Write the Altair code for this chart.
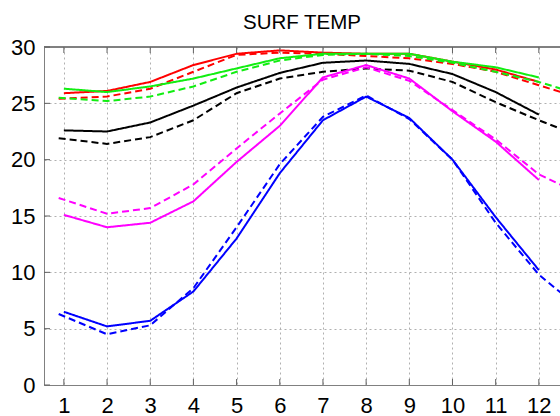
import altair as alt
import pandas as pd

months = list(range(1, 13))
dash_x = [0.88] + list(range(2, 13)) + [12.6]
y_ticks = [0, 5, 10, 15, 20, 25, 30]

series_names = ["red", "green", "black", "magenta", "blue"]
series_colors = ["#ff0000", "#11ee11", "#000000", "#ff00ff", "#0000ff"]

red_solid = [25.9, 26.1, 26.9, 28.4, 29.4, 29.7, 29.5, 29.4, 29.4, 28.7, 28.0, 26.9]
green_solid = [26.3, 26.0, 26.5, 27.2, 28.1, 29.0, 29.4, 29.4, 29.4, 28.7, 28.2, 27.3]
black_solid = [22.6, 22.5, 23.3, 24.8, 26.4, 27.7, 28.6, 28.8, 28.5, 27.6, 26.0, 24.0]
magenta_solid = [15.1, 14.0, 14.4, 16.3, 19.8, 23.0, 27.3, 28.4, 27.2, 24.3, 21.6, 18.2]
blue_solid = [6.5, 5.2, 5.7, 8.3, 13.0, 18.8, 23.5, 25.6, 23.7, 20.0, 14.9, 10.2]

red_dashed = [25.4, 25.6, 26.3, 27.8, 29.3, 29.5, 29.4, 29.2, 29.0, 28.5, 27.8, 26.6, 25.9]
green_dashed = [25.5, 25.2, 25.6, 26.5, 27.8, 28.8, 29.3, 29.4, 29.2, 28.6, 27.8, 26.9, 26.2]
black_dashed = [21.9, 21.4, 22.0, 23.5, 25.9, 27.2, 27.8, 28.1, 27.9, 26.9, 25.1, 23.5, 22.6]
magenta_dashed = [16.6, 15.2, 15.7, 17.8, 21.0, 24.1, 27.1, 28.2, 27.0, 24.4, 21.8, 18.7, 17.6]
blue_dashed = [6.3, 4.5, 5.3, 8.6, 14.0, 19.6, 23.8, 25.7, 23.6, 20.0, 14.4, 9.8, 7.9]

solid = dict(zip(series_names, [red_solid, green_solid, black_solid, magenta_solid, blue_solid]))
dashed = dict(zip(series_names, [red_dashed, green_dashed, black_dashed, magenta_dashed, blue_dashed]))

rows = []
for name in series_names:
    for x, v in zip(dash_x, dashed[name]):
        rows.append({"series": name + "_d", "color": name, "style": "dashed", "x": x, "y": v})
    for x, v in zip(months, solid[name]):
        rows.append({"series": name + "_s", "color": name, "style": "solid", "x": x, "y": v})
df = pd.DataFrame(rows)

W, H = 516, 338
FONT = "Liberation Sans"

xscale = alt.Scale(domain=[0.54, 12.49], nice=False, zero=False)
yscale = alt.Scale(domain=[0, 30], nice=False, zero=True)

xaxis = alt.Axis(values=months, grid=True, gridDash=[2, 3], gridColor="#b0b0b0", gridWidth=1,
                 ticks=False, labelFontSize=22, labelFont=FONT, labelColor="#000000",
                 labelPadding=10, domainColor="#808080", domainWidth=1, title=None, format="d")
yaxis = alt.Axis(values=y_ticks, grid=True, gridDash=[2, 3], gridColor="#b0b0b0", gridWidth=1,
                 ticks=False, labelFontSize=22, labelFont=FONT, labelColor="#000000",
                 labelPadding=9, domainColor="#808080", domainWidth=1, title=None, format="d")

lines = alt.Chart(df).mark_line(strokeWidth=2, clip=True).encode(
    x=alt.X("x:Q", scale=xscale, axis=xaxis),
    y=alt.Y("y:Q", scale=yscale, axis=yaxis),
    color=alt.Color("color:N", scale=alt.Scale(domain=series_names, range=series_colors), legend=None),
    strokeDash=alt.StrokeDash("style:N", scale=alt.Scale(domain=["solid", "dashed"], range=[[1, 0], [7, 4]]), legend=None),
    detail="series:N",
    order=alt.Order("x:Q"),
)

mdf = pd.DataFrame({"m": months})
ydf = pd.DataFrame({"v": y_ticks})

top_border = alt.Chart(mdf).mark_rule(color="#808080", strokeWidth=1).encode(
    x=alt.value(0), x2=alt.value(W), y=alt.value(0))
top_ticks = alt.Chart(mdf).mark_rule(color="#606060", strokeWidth=1).encode(
    x=alt.X("m:Q", scale=xscale), y=alt.value(0), y2=alt.value(6))
bot_ticks = alt.Chart(mdf).mark_rule(color="#606060", strokeWidth=1).encode(
    x=alt.X("m:Q", scale=xscale), y=alt.value(H), y2=alt.value(H - 6))
left_ticks = alt.Chart(ydf).mark_rule(color="#606060", strokeWidth=1).encode(
    y=alt.Y("v:Q", scale=yscale), x=alt.value(0), x2=alt.value(6))

chart = alt.layer(lines, top_border, top_ticks, bot_ticks, left_ticks).properties(
    width=W, height=H,
    title=alt.TitleParams("SURF TEMP", fontSize=20.5, font=FONT, fontWeight="normal",
                          anchor="middle", offset=3, color="#000000"),
    autosize=alt.AutoSizeParams(type="none"),
    padding={"left": 44, "top": 47, "right": 0, "bottom": 31},
).configure_view(stroke=None).configure(background="white")

chart.save("out.html", embed_options={"renderer": "svg", "actions": False})
